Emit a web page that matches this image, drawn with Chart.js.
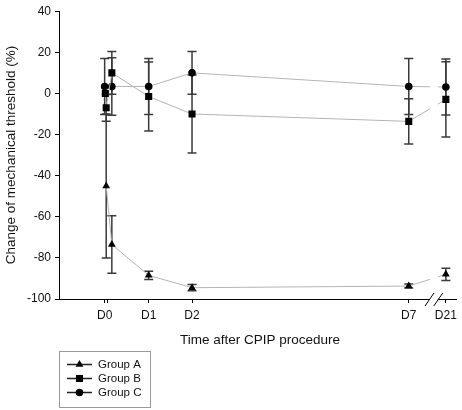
<!DOCTYPE html>
<html>
<head>
<meta charset="utf-8">
<script src="https://cdn.jsdelivr.net/npm/chart.js@4/dist/chart.umd.min.js"></script>
<style>
  html, body { margin: 0; padding: 0; background: #fff; }
  #wrap { width: 462px; height: 410px; position: relative; }
</style>
</head>
<body>
<div id="wrap"><canvas id="c"></canvas></div>
<script>
// days after procedure (D21 sits after an axis break)
const timeA = [0.02, 0.15, 1, 2, 7, 7.856];
const timeB = [0, 0.02, 0.15, 1, 2, 7, 7.856];
const timeC = [-0.016, 0.15, 1, 2, 7, 7.856];

const groupA = [-45, -73.5, -88.5, -94.5, -93.7, -88];
const groupB = [0, -7, 10, -1.5, -10, -13.6, -2.9];
const groupC = [3.4, 3.4, 3.4, 10, 3.4, 3.1];

const errA = [35, 14, 2, 1.5, 1, 3];
const errB = [0, 6.5, 10.4, 16.8, 19, 11, 18.3];
const errC = [13.6, 14, 13.6, 10.4, 13.6, 13.6];

const xTickValues = [-0.016, 0.05, 1, 2, 7, 7.856];
const xTickLabels = ['D0', '', 'D1', 'D2', 'D7', 'D21'];
const yTicks = [40, 20, 0, -20, -40, -60, -80, -100];

const axisBreak = [7.49, 7.67];

const font = 'Liberation Sans, Arial, sans-serif';
const lineGray = '#b4b4b4';
const barColor = '#3a3a3a';

const toPoints = (xs, ys) => xs.map((x, i) => ({ x, y: ys[i] }));

const errorBars = {
    id: 'errorBars',
    beforeDatasetsDraw(chart) {
        const { ctx, scales: { x, y } } = chart;
        ctx.save();
        ctx.strokeStyle = barColor;
        ctx.lineWidth = 1.5;
        chart.data.datasets.forEach(ds => {
            ds.data.forEach((p, i) => {
                const e = ds.errors[i];
                if (!e) return;
                const px = x.getPixelForValue(p.x);
                const top = y.getPixelForValue(p.y + e);
                const bot = y.getPixelForValue(p.y - e);
                ctx.beginPath();
                ctx.moveTo(px, top); ctx.lineTo(px, bot);
                ctx.moveTo(px - 4.5, top); ctx.lineTo(px + 4.5, top);
                ctx.moveTo(px - 4.5, bot); ctx.lineTo(px + 4.5, bot);
                ctx.stroke();
            });
        });
        ctx.restore();
    }
};

const extras = {
    id: 'extras',
    afterDraw(chart) {
        const { ctx, chartArea: a, scales: { x, y } } = chart;
        const b0 = x.getPixelForValue(axisBreak[0]);
        const b1 = x.getPixelForValue(axisBreak[1]);
        ctx.save();
        // axis break
        ctx.fillStyle = '#fff';
        ctx.fillRect(b0, a.top, b1 - b0, a.bottom - a.top + 2);
        ctx.strokeStyle = '#000';
        ctx.lineWidth = 1;
        ctx.beginPath();
        ctx.moveTo(b0 - 5, a.bottom + 7); ctx.lineTo(b0 + 4, a.bottom - 6);
        ctx.moveTo(b1 - 4, a.bottom + 7); ctx.lineTo(b1 + 5, a.bottom - 6);
        ctx.stroke();

        // axis titles
        ctx.fillStyle = '#111';
        ctx.font = '13.5px ' + font;
        ctx.textAlign = 'center';
        ctx.textBaseline = 'middle';
        ctx.fillText('Time after CPIP procedure', 260, 340);
        ctx.translate(11, 155);
        ctx.rotate(-Math.PI / 2);
        ctx.fillText('Change of mechanical threshold (%)', 0, 0);
        ctx.restore();

        // legend
        ctx.save();
        ctx.strokeStyle = '#999';
        ctx.lineWidth = 1;
        ctx.strokeRect(59.5, 351.5, 91, 56);
        ctx.font = '11.5px ' + font;
        ctx.textAlign = 'left';
        ctx.textBaseline = 'middle';
        chart.data.datasets.forEach((ds, i) => {
            const ly = 364.5 + i * 14;
            ctx.strokeStyle = '#222';
            ctx.lineWidth = 1.5;
            ctx.beginPath();
            ctx.moveTo(67, ly); ctx.lineTo(92, ly);
            ctx.stroke();
            ctx.fillStyle = '#000';
            Chart.helpers.drawPoint(ctx, { pointStyle: ds.pointStyle, radius: ds.pointRadius, borderWidth: 0 }, 79.5, ly);
            ctx.fillStyle = '#111';
            ctx.fillText(ds.label, 98, ly + 0.5);
        });
        ctx.restore();
    }
};

const mk = (label, xs, ys, errs, style, r) => ({
    label,
    data: toPoints(xs, ys),
    errors: errs,
    borderColor: lineGray,
    borderWidth: 1,
    pointStyle: style,
    pointRadius: r,
    pointBackgroundColor: '#000',
    pointBorderColor: '#000',
    pointBorderWidth: 0,
    tension: 0
});

new Chart(document.getElementById('c'), {
    type: 'line',
    data: {
        datasets: [
            mk('Group A', timeA, groupA, errA, 'triangle', 4.5),
            mk('Group B', timeB, groupB, errB, 'rect', 5),
            mk('Group C', timeC, groupC, errC, 'circle', 3.8)
        ]
    },
    options: {
        responsive: true,
        maintainAspectRatio: false,
        animation: false,
        layout: { padding: { top: 11, right: 2, left: 0, bottom: 0 } },
        plugins: { legend: { display: false }, tooltip: { enabled: false } },
        scales: {
            x: {
                type: 'linear',
                min: -1.069,
                max: 8.107,
                afterFit: s => { s.height = 111; },
                afterBuildTicks: s => { s.ticks = xTickValues.map(v => ({ value: v })); },
                border: { display: true, color: '#000', width: 1 },
                grid: { display: true, drawOnChartArea: false, tickLength: 4, color: '#000' },
                ticks: {
                    autoSkip: false,
                    maxRotation: 0,
                    padding: 5,
                    color: '#111',
                    font: { family: font, size: 12 },
                    callback: (v, i) => xTickLabels[i]
                }
            },
            y: {
                min: -100,
                max: 40,
                afterFit: s => { s.width = 59; },
                afterBuildTicks: s => { s.ticks = yTicks.map(v => ({ value: v })); },
                border: { display: true, color: '#000', width: 1 },
                grid: { display: true, drawOnChartArea: false, tickLength: 4, color: '#000' },
                ticks: {
                    padding: 4,
                    color: '#111',
                    font: { family: font, size: 12 }
                }
            }
        }
    },
    plugins: [errorBars, extras]
});
</script>
</body>
</html>
